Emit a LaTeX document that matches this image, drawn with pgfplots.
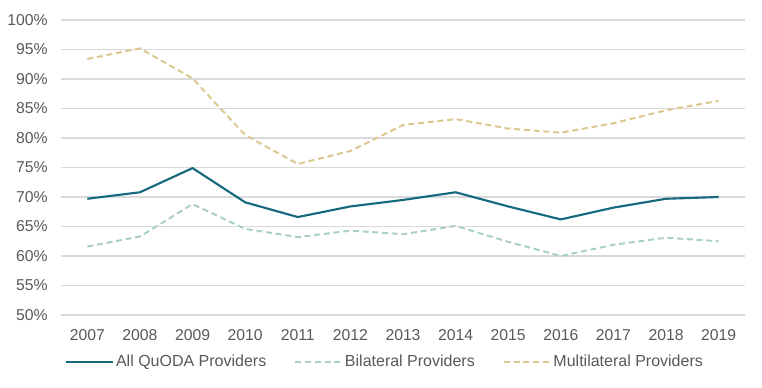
\documentclass[border=0pt]{standalone}
\usepackage{pgfplots}
\pgfplotsset{compat=1.18}
\usepackage{fontspec}
\setmainfont{Liberation Sans}
\definecolor{quoda}{HTML}{17697E}
\definecolor{bilat}{HTML}{A9CFCD}
\definecolor{multi}{HTML}{DCC78F}
\definecolor{txt}{HTML}{595959}
\definecolor{gridc}{HTML}{D9D9D9}
\begin{document}
\begin{tikzpicture}
\begin{axis}[
  name=ax,
  scale only axis,
  width=513pt, height=221.25pt,
  xmin=-0.5, xmax=12.5,
  ymin=50, ymax=100,
  xtick={0,...,12},
  xticklabels={2007,2008,2009,2010,2011,2012,2013,2014,2015,2016,2017,2018,2019},
  ytick={50,55,...,100},
  yticklabels={50\%,55\%,60\%,65\%,70\%,75\%,80\%,85\%,90\%,95\%,100\%},
  ymajorgrids,
  xmajorgrids=false,
  grid style={draw=gridc, line width=0.8pt},
  axis line style={draw=none},
  tick style={draw=none},
  major tick length=0pt,
  tick label style={font=\fontsize{11.8}{14}\selectfont, text=txt},
  yticklabel style={xshift=-6.5pt},
  xticklabel style={yshift=-7.5pt},
  legend style={draw=none, font=\fontsize{12}{14}\selectfont, text=txt,
    at={(0,0)}, anchor=west, xshift=3pt, yshift=-35.25pt,
    legend columns=-1, inner sep=0pt,
    /tikz/every even column/.append style={column sep=19.5pt}},
  legend image code/.code={\draw[#1] (0pt,0pt) -- (35pt,0pt);},
  every axis legend/.append style={nodes={inner xsep=1.5pt}},
]
\addplot[quoda, line width=1.6pt] coordinates {
 (0,69.7) (1,70.8) (2,74.9) (3,69.1) (4,66.6) (5,68.4) (6,69.5) (7,70.8) (8,68.4) (9,66.2) (10,68.2) (11,69.7) (12,70.0)};
\addlegendentry{All QuODA Providers}
\addplot[bilat, line width=1.5pt, dash pattern=on 4.5pt off 2.8pt] coordinates {
 (0,61.6) (1,63.3) (2,68.8) (3,64.6) (4,63.2) (5,64.3) (6,63.7) (7,65.1) (8,62.4) (9,60.0) (10,61.9) (11,63.1) (12,62.5)};
\addlegendentry{Bilateral Providers}
\addplot[multi, line width=1.5pt, dash pattern=on 4.5pt off 2.8pt] coordinates {
 (0,93.4) (1,95.2) (2,90.1) (3,80.5) (4,75.6) (5,77.8) (6,82.2) (7,83.2) (8,81.6) (9,80.9) (10,82.5) (11,84.7) (12,86.3)};
\addlegendentry{Multilateral Providers}
\end{axis}
\pgfresetboundingbox
\path[use as bounding box] ([xshift=-45.75pt,yshift=-54.75pt]ax.south west) rectangle ([xshift=12.75pt,yshift=15pt]ax.north east);
\end{tikzpicture}
\end{document}
